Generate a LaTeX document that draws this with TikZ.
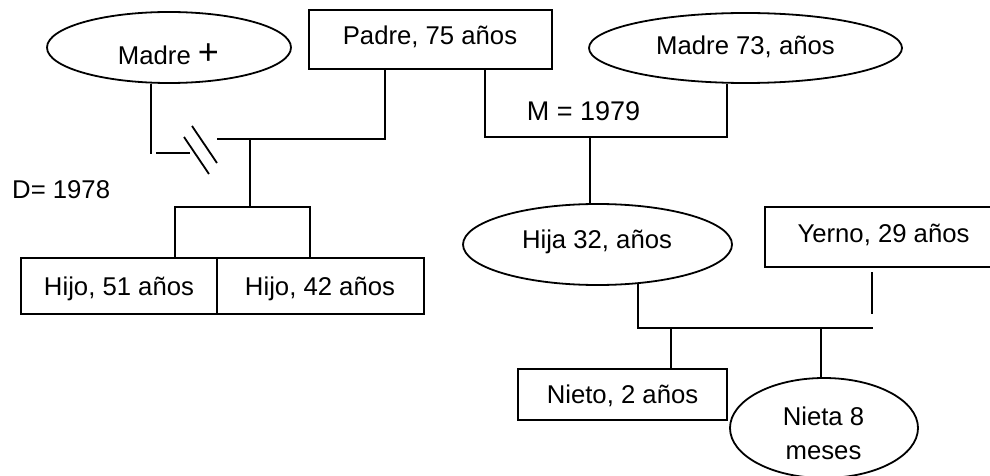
\documentclass[tikz,border=0pt]{standalone}
\usepackage{fontspec}
\setmainfont{Liberation Sans}
\usetikzlibrary{shapes.geometric}
\begin{document}
\begin{tikzpicture}[x=1pt,y=-1pt,
  every node/.style={font=\fontsize{25.7}{31}\selectfont, inner sep=0pt},
  ln/.style={line width=1.8pt},
  oval/.style={ellipse, draw, line width=1.8pt},
  rbox/.style={rectangle, draw, line width=1.8pt},
  lbl/.style={anchor=base}]
\useasboundingbox (0,0) rectangle (990,476);
\clip (0,0) rectangle (990,476);
% shapes
\node[oval, minimum width=244, minimum height=71] (madreA) at (169,47.5) {};
\node[rbox, minimum width=243, minimum height=59] (padre) at (430.5,39.5) {};
\node[oval, minimum width=313, minimum height=70] (madreB) at (745.5,48) {};
\node[rbox, minimum width=196, minimum height=56] (hijo1) at (119,286) {};
\node[rbox, minimum width=207, minimum height=56] (hijo2) at (320.5,286) {};
\node[oval, minimum width=269, minimum height=81] (hija) at (597.5,244.5) {};
\node[rbox, minimum width=235, minimum height=60] (yerno) at (882.5,237) {};
\node[rbox, minimum width=209, minimum height=51] (nieto) at (622.5,394.5) {};
\node[oval, minimum width=188, minimum height=100] (nieta) at (824,428) {};
% labels
\node[lbl] (madreAt) at (168.5,65) {Madre {\fontsize{36}{36}\selectfont +}};
\node[lbl] (padret) at (430,45) {Padre, 75 años};
\node[lbl] (madreBt) at (745.5,55) {Madre 73, años};
\node[lbl, font=\fontsize{27}{31}\selectfont] (mtext) at (583.5,121) {M = 1979};
\node[lbl, anchor=base west] (dtext) at (12,198) {D= 1978};
\node[lbl] (hijo1t) at (119,295) {Hijo, 51 años};
\node[lbl] (hijo2t) at (320,295) {Hijo, 42 años};
\node[lbl] (hijat) at (597,248) {Hija 32, años};
\node[lbl] (yernot) at (883.5,242) {Yerno, 29 años};
\node[lbl] (nietot) at (622.5,403) {Nieto, 2 años};
\node[lbl] (nietat1) at (823.5,425) {Nieta 8};
\node[lbl] (nietat2) at (823.5,459) {meses};
% coordinates
\coordinate (dA) at (151,154);
\coordinate (dB1) at (156,153);
\coordinate (dB2) at (190,153);
\coordinate (pJ) at (217,139);
\coordinate (pK) at (385,139);
\coordinate (cA) at (250,139);
\coordinate (cB) at (250,207);
\coordinate (cL) at (175,207);
\coordinate (cR) at (310,207);
\coordinate (mL) at (485,137);
\coordinate (mR) at (727,137);
\coordinate (mC) at (590,137);
\coordinate (hS) at (638,283);
\coordinate (hB) at (638,328);
\coordinate (yT) at (872,272);
\coordinate (yB) at (872,314);
\coordinate (yH) at (873,328);
\coordinate (n1) at (671,328);
\coordinate (n2) at (821,328);
% connectors
\draw[ln] (dA |- madreA.south) -- (dA);
\draw[ln] (dB1) -- (dB2);
\draw[ln] (192,126) -- (217,163);
\draw[ln] (184,137) -- (209,174);
\draw[ln] (pJ) -- (pK) -- (pK |- padre.south);
\draw[ln] (cA) -- (cB);
\draw[ln] (cL |- hijo1.north) -- (cL) -- (cR) -- (cR |- hijo2.north);
\draw[ln] (mL |- padre.south) -- (mL) -- (mR) -- (mR |- madreB.south);
\draw[ln] (mC) -- (hija.north -| mC);
\draw[ln] (yT) -- (yB);
\draw[ln] (hS) -- (hB) -- (yH);
\draw[ln] (n1) -- (n1 |- nieto.north);
\draw[ln] (n2) -- (n2 |- nieta.north);
\end{tikzpicture}
\end{document}
